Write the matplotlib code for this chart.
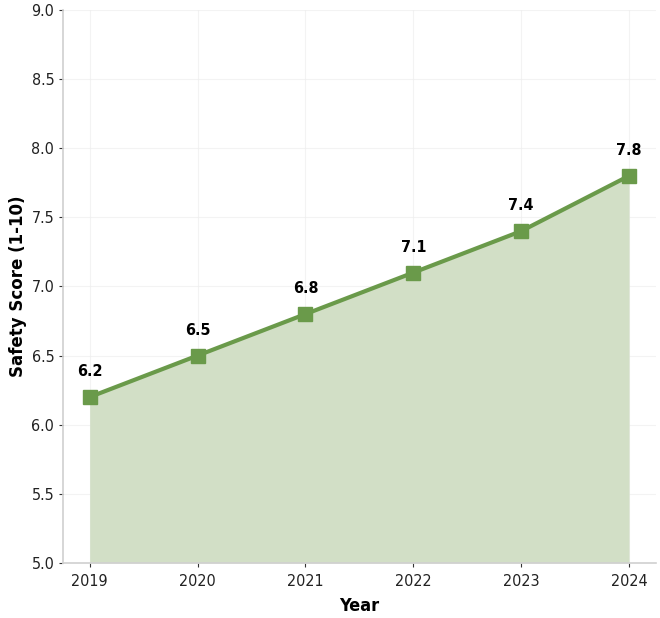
import matplotlib
matplotlib.use("Agg")
import matplotlib.pyplot as plt
from matplotlib import font_manager
from matplotlib.font_manager import FontProperties

years = [2019, 2020, 2021, 2022, 2023, 2024]
scores = [6.2, 6.5, 6.8, 7.1, 7.4, 7.8]


def narrow_font(weight):
    # look for a condensed / narrow face among the installed fonts
    cands = []
    for f in font_manager.fontManager.ttflist:
        fn = f.fname.lower()
        if ("condensed" in fn or "narrow" in fn or f.stretch in ("condensed", "semi-condensed")) \
                and "mono" not in fn and "oblique" not in fn and "italic" not in fn:
            isbold = "bold" in fn or f.weight in ("bold", 700)
            if isbold == (weight == "bold"):
                cands.append(f.fname)
    cands.sort(key=lambda p: (0 if "dejavusans" in p.lower().replace("-", "") else 1, p))
    if cands:
        return FontProperties(fname=cands[0])
    return FontProperties(family="DejaVu Sans", weight=weight)


REG = narrow_font("normal")
BOLD = narrow_font("bold")

GREEN = "#6a9a4a"
FILL = "#d2dfc6"
SPINE = "#d0d0d0"

fig = plt.figure(figsize=(6.6, 6.18), dpi=100)
ax = fig.add_axes([0.095, 0.089, 0.899, 0.895])

ax.fill_between(years, scores, 5.0, color=FILL, zorder=1, linewidth=0)
ax.plot(years, scores, color=GREEN, lw=3, marker="s", markersize=9.5, zorder=3)

for x, y in zip(years, scores):
    ax.annotate(f"{y:.1f}", (x, y), xytext=(0, 13), textcoords="offset points",
                ha="center", va="bottom", fontproperties=BOLD, fontsize=11.5, color="black")

ax.set_ylim(5.0, 9.0)
ax.set_xticks(years)
yt = [5.0, 5.5, 6.0, 6.5, 7.0, 7.5, 8.0, 8.5, 9.0]
ax.set_yticks(yt)
ax.set_yticklabels([f"{v:.1f}" for v in yt])
ax.margins(x=0.05)
for lab in ax.get_xticklabels() + ax.get_yticklabels():
    lab.set_fontproperties(REG)
    lab.set_fontsize(11.5)
    lab.set_color("#222222")

ax.set_xlabel("Year", fontproperties=BOLD, fontsize=13, labelpad=6)
ax.set_ylabel("Safety Score (1-10)", fontsize=12, fontweight="bold", family="DejaVu Sans")
ax.yaxis.set_label_coords(-0.06, 0.5)

ax.grid(True, color="#eeeeee", linewidth=0.8, alpha=0.7, zorder=0)
ax.set_axisbelow(True)
for s in ["top", "right"]:
    ax.spines[s].set_visible(False)
for s in ["left", "bottom"]:
    ax.spines[s].set_color(SPINE)
    ax.spines[s].set_linewidth(1.2)
ax.tick_params(length=3, pad=3, color="#333333")
ax.tick_params(axis="x", pad=5)

fig.savefig("out.png", dpi=100, facecolor="white")
